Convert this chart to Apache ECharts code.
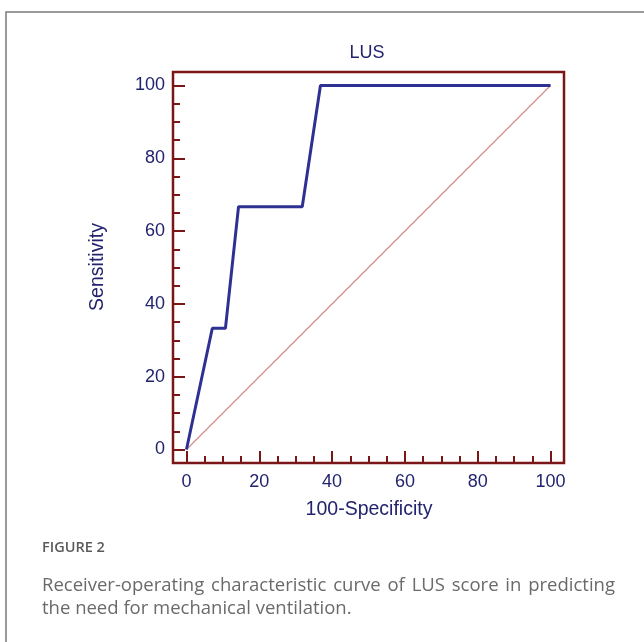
<!DOCTYPE html>
<html>
<head>
<meta charset="utf-8">
<script src="https://cdn.jsdelivr.net/npm/echarts@6/dist/echarts.min.js"></script>
<style>
html, body { margin: 0; padding: 0; background: #fff; }
#chart { width: 644px; height: 642px; }
</style>
</head>
<body>
<div id="chart"></div>
<script>
var rocX = [0, 7.1, 10.7, 14.3, 31.8, 36.8, 100]; // 100-Specificity
var rocY = [0, 33.3, 33.3, 66.7, 66.7, 100, 100]; // Sensitivity
var refX = [0, 100];
var refY = [0, 100];
var majorTicks = [0, 20, 40, 60, 80, 100];
var minorTicks = [5, 10, 15, 25, 30, 35, 45, 50, 55, 65, 70, 75, 85, 90, 95];
var captionLine1 = 'Receiver-operating characteristic curve of LUS score in predicting';
var captionLine2 = 'the need for mechanical ventilation.';

var axisMin = -3.7, axisMax = 103.7;
var dark = '#7b1616';
var navy = '#23236f';
var capFont = '18.5px "Open Sans"';

function pairs(xs, ys) {
	return xs.map(function (x, i) { return [x, ys[i]]; });
}

function makeAxis(vals, len, showLabel, isY) {
	return {
		type: 'value',
		min: axisMin,
		max: axisMax,
		position: isY ? 'left' : 'bottom',
		splitLine: { show: false },
		axisLine: { show: false, onZero: false },
		axisTick: { show: true, inside: true, length: len, customValues: vals, lineStyle: { color: dark, width: 2 } },
		axisLabel: {
			show: showLabel,
			customValues: vals,
			margin: isY ? 8 : 10,
			color: navy,
			fontSize: 18,
			fontFamily: 'Liberation Sans'
		}
	};
}

// justified first caption line: spread words over 42..615
function justified(text, x0, x1, y) {
	var ctx = document.createElement('canvas').getContext('2d');
	ctx.font = capFont;
	var words = text.split(' ');
	var widths = words.map(function (w) { return ctx.measureText(w).width; });
	var total = widths.reduce(function (a, b) { return a + b; }, 0);
	var gap = (x1 - x0 - total) / (words.length - 1);
	var x = x0, out = [];
	words.forEach(function (w, i) {
		out.push({ type: 'text', style: { text: w, x: x, y: y, verticalAlign: 'middle', fill: '#6a6a6a', font: capFont } });
		x += widths[i] + gap;
	});
	return out;
}

var graphics = [
	{ type: 'polyline', shape: { points: [[6, 642], [6, 12], [644, 12]] }, style: { stroke: '#7a7a7a', lineWidth: 1.5, fill: null } },
	{ type: 'text', style: { text: 'LUS', x: 367, y: 53, align: 'center', verticalAlign: 'middle', fill: navy, font: '18px "Liberation Sans"' } },
	{ type: 'text', style: { text: '100-Specificity', x: 369, y: 510, align: 'center', verticalAlign: 'middle', fill: navy, font: '19.5px "Liberation Sans"' } },
	{ type: 'text', x: 98, y: 267, rotation: Math.PI / 2, style: { text: 'Sensitivity', x: 0, y: 0, align: 'center', verticalAlign: 'middle', fill: navy, font: '19.5px "Liberation Sans"' } },
	{ type: 'text', style: { text: 'FIGURE 2', x: 42, y: 548, verticalAlign: 'middle', fill: '#5a5a5a', font: '600 14.5px "Open Sans"' } },
	{ type: 'text', style: { text: captionLine2, x: 42, y: 609, verticalAlign: 'middle', fill: '#6a6a6a', font: capFont } }
].concat(justified(captionLine1, 42, 615, 586));

var chart = echarts.init(document.getElementById('chart'));
chart.setOption({
	animation: false,
	grid: {
		left: 173, right: 80, top: 72, bottom: 179,
		show: true, borderColor: dark, borderWidth: 2.5, backgroundColor: '#fff'
	},
	xAxis: [makeAxis(majorTicks, 12, true, false), makeAxis(minorTicks, 7, false, false)],
	yAxis: [makeAxis(majorTicks, 12, true, true), makeAxis(minorTicks, 7, false, true)],
	series: [
		{
			type: 'line', data: pairs(refX, refY), symbol: 'none',
			lineStyle: { color: '#d48a8a', width: 1.2 }
		},
		{
			type: 'line', data: pairs(rocX, rocY), symbol: 'none',
			lineStyle: { color: '#2e3192', width: 3 }
		}
	],
	graphic: graphics
});
</script>
</body>
</html>
